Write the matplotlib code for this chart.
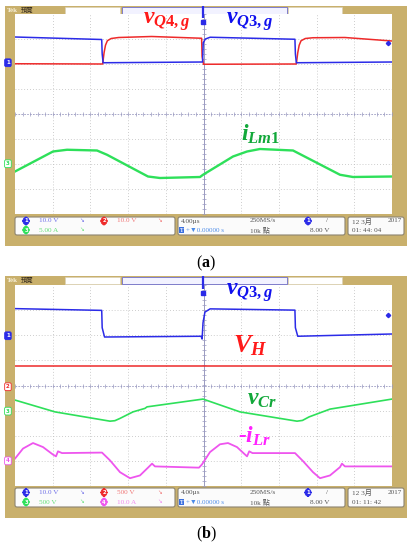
import matplotlib.pyplot as plt
from matplotlib.patches import Rectangle, FancyBboxPatch
import numpy as np

plt.rcParams['mathtext.fontset'] = 'custom'
plt.rcParams['mathtext.it'] = 'Liberation Serif:italic:bold'
plt.rcParams['mathtext.rm'] = 'Liberation Serif:bold'
plt.rcParams['mathtext.bf'] = 'Liberation Serif:bold'

# time in us (4 us/div, 10 div on screen), levels in screen divisions
# ---- (a)
t_q3g_a = [0, 9.2, 9.25, 9.35, 19.9, 19.97, 20.2, 20.7, 29.7, 29.75, 29.85, 40]
v_q3g_a = [3.08, 2.98, 2.4, 2.05, 2.08, 2.85, 3.0, 3.07, 2.99, 2.4, 2.05, 2.08]
t_q4g_a = [0, 9.3, 9.45, 9.6, 9.8, 10.2, 11.0, 14.5, 19.8, 19.85, 20.0,
           29.85, 30.0, 30.15, 30.35, 30.8, 31.6, 35.0, 40]
v_q4g_a = [2.01, 2.0, 2.45, 2.75, 2.93, 3.02, 3.06, 3.1, 3.03, 2.3, 1.99,
           2.0, 2.45, 2.75, 2.93, 3.02, 3.05, 3.06, 2.92]
t_ilm_a = [0, 4.03, 5.52, 8.70, 9.76, 14.11, 15.38, 19.63, 19.95, 23.13,
           24.62, 25.99, 29.50, 34.48, 35.86, 40]
v_ilm_a = [-2.30, -1.50, -1.43, -1.46, -1.63, -2.50, -2.56, -2.52, -2.43, -1.70,
           -1.50, -1.40, -1.46, -2.43, -2.52, -2.50]

# ---- (b)
t_q3g_b = [0, 9.2, 9.25, 9.5, 19.75, 19.85, 19.95, 20.15, 20.7, 29.7, 29.75, 30.0, 40]
v_q3g_b = [3.06, 2.99, 2.3, 1.93, 1.96, 1.85, 2.5, 2.92, 3.05, 3.0, 2.3, 1.96, 2.05]
t_vh_b = [0, 40]
v_vh_b = [0.78, 0.78]
t_vcr_b = [0, 4.24, 10.08, 10.6, 11.14, 12.52, 13.79, 14.01, 19.95, 23.87,
           29.92, 30.5, 31.2, 33.42, 40]
v_vcr_b = [-0.58, -1.05, -1.42, -1.40, -1.31, -1.05, -0.91, -0.85, -0.54, -1.05,
           -1.42, -1.39, -1.25, -0.94, -0.54]
t_ilr_b = [0, 0.85, 1.91, 2.97, 4.03, 4.35, 4.56, 4.99, 9.23, 10.08,
           11.14, 12.20, 13.26, 14.11, 14.54, 14.85, 19.52, 19.84, 20.69, 21.75,
           22.60, 23.55, 24.5, 24.62, 24.85, 25.2, 29.71, 30.56, 31.62, 32.36,
           33.42, 34.48, 34.69, 35.01, 40]
v_ilr_b = [-2.91, -2.51, -2.29, -2.45, -2.75, -2.82, -2.62, -2.69, -2.67, -2.98,
           -3.45, -3.69, -3.58, -3.27, -3.11, -3.22, -3.27, -3.14, -2.65, -2.34,
           -2.29, -2.45, -2.78, -2.82, -2.62, -2.69, -2.69, -3.01, -3.45, -3.69,
           -3.58, -3.25, -3.11, -3.22, -3.22]

# channel ground markers (screen divisions) and reference dot
gnd_a = {'1': 2.05, '3': -1.99}
gnd_b = {'1': 1.98, '2': -0.05, '3': -1.02, '4': -3.0}
ref_dot = (39.57, 2.82)

BLUE = '#2b2be8'
RED = '#ee2a2a'
GREEN = '#2ee05a'
MAG = '#ee55ee'
TAN = '#c9b06c'
CH = {'1': BLUE, '2': RED, '3': GREEN, '4': MAG}
INFO_FONT = ['Liberation Serif', 'DejaVu Sans', 'Noto Sans CJK TC']

fig = plt.figure(figsize=(4.14, 5.5), dpi=100)
W, H = 414, 550

bg = fig.add_axes([0, 0, 1, 1], zorder=0)
bg.set_xlim(0, W); bg.set_ylim(H, 0); bg.axis('off')
ov = fig.add_axes([0, 0, 1, 1], zorder=5)
ov.set_xlim(0, W); ov.set_ylim(H, 0); ov.axis('off')
ov.patch.set_alpha(0)


def frame(top, plot_top, plot_bot, info_top, info_bot, bottom):
    bg.add_patch(Rectangle((5, top), 402, bottom - top, fc=TAN, ec='none'))
    bg.add_patch(Rectangle((65, top + 0.5), 55, 7, fc='white', ec='#d8d0b8', lw=0.4))
    bg.add_patch(Rectangle((122, top + 0.5), 165, 7, fc='#f2f2ff', ec='#7070d0', lw=0.6))
    bg.add_patch(Rectangle((288, top + 0.5), 54, 7, fc='white', ec='#d8d0b8', lw=0.4))
    bg.text(7, top + 4, 'Tek', fontsize=5, color='#f6efd8', fontweight='bold',
            va='center', family=INFO_FONT)
    bg.text(21, top + 4, '預覽', fontsize=4.5, color='#3a3020', va='center',
            family=['Noto Sans CJK TC'])
    for x0, x1 in [(15, 175), (178, 345), (348, 404)]:
        bg.add_patch(FancyBboxPatch((x0, info_top), x1 - x0, info_bot - info_top,
                                    boxstyle='round,pad=0,rounding_size=2',
                                    fc='#fbfbfb', ec='#8c8470', lw=0.8))
    # trigger position marker
    ov.plot([203, 203], [top, plot_top + 4], color=BLUE, lw=1.6, solid_capstyle='butt')
    ov.plot(203, plot_top + 8, marker='s', ms=2.6, color=BLUE)
    return [15 / W, 1 - plot_bot / H, 377 / W, (plot_bot - plot_top) / H]


def screen(rect):
    ax = fig.add_axes(rect, zorder=2)
    ax.set_xlim(0, 40); ax.set_ylim(-4, 4)
    ax.set_facecolor('white')
    for s in ax.spines.values():
        s.set_visible(False)
    ax.set_xticks([]); ax.set_yticks([])
    for x in np.arange(4, 40, 4):
        if x != 20:
            ax.axvline(x, color='#bdbdbd', lw=0.6, ls=(0, (1, 2.5)), zorder=0)
    for y in range(-3, 4):
        if y != 0:
            ax.axhline(y, color='#bdbdbd', lw=0.6, ls=(0, (1, 2.5)), zorder=0)
    ax.axvline(20, color='#9a9ac0', lw=0.7, zorder=0)
    ax.axhline(0, color='#9a9ac0', lw=0.6, ls=(0, (2, 1.5)), zorder=0)
    tk = np.arange(0, 40.01, 0.8)
    ax.plot(tk, np.zeros_like(tk), ls='none', marker='|', ms=2.5, mew=0.5, color='#9a9ac0', zorder=0)
    vk = np.arange(-4, 4.01, 0.2)
    ax.plot(np.full_like(vk, 20), vk, ls='none', marker='_', ms=2.5, mew=0.5, color='#9a9ac0', zorder=0)
    return ax


def ground_markers(ax, gnd):
    for ch, lv in gnd.items():
        filled = ch == '1'
        ax.text(-0.75, lv, ch, fontsize=4, fontweight='bold', ha='center', va='center',
                color='white' if filled else CH[ch], clip_on=False, zorder=6,
                bbox=dict(boxstyle='round,pad=0.25', fc=CH[ch] if filled else 'white',
                          ec=CH[ch], lw=0.6))


def badge(x, y, s, c):
    ov.text(x, y, s, fontsize=3.8, fontweight='bold', color='white', ha='center', va='center',
            bbox=dict(boxstyle='round,pad=0.25,rounding_size=0.8', fc=c, ec=c, lw=0.5))


def info(r1, r2, chans, clock):
    # chans: list of (row, col, channel, scale text)
    for row, col, ch, txt in chans:
        y = r1 if row == 0 else r2
        bx = 26 if col == 0 else 104
        badge(bx, y, ch, CH[ch])
        light = {'1': '#7070e8', '2': '#f07878', '3': '#66e07a', '4': '#f08cf0'}[ch]
        ov.text(bx + 13, y, txt, fontsize=5.2, color=light, va='center', family=INFO_FONT)
        ov.text(bx + 53, y, '↘', fontsize=4, color=light, va='center', family=INFO_FONT)
    ov.text(181, r1, '4.00µs', fontsize=5.2, color='#555555', va='center', family=INFO_FONT)
    ov.text(250, r1, '250MS/s', fontsize=5.2, color='#555555', va='center', family=INFO_FONT)
    badge(308, r1, '1', BLUE)
    ov.text(326, r1, '/', fontsize=5.2, color='#555555', va='center', family=INFO_FONT)
    ov.text(180, r2, 'T', fontsize=4, color='white', va='center', fontweight='bold',
            family=INFO_FONT, bbox=dict(boxstyle='square,pad=0.1', fc='#3a6fe0', ec='none'))
    ov.text(186, r2, '+▼0.00000 s', fontsize=5, color='#4a8ae8', va='center', family=INFO_FONT)
    ov.text(250, r2, '10k 點', fontsize=5.2, color='#555555', va='center', family=INFO_FONT)
    ov.text(330, r2, '8.00 V', fontsize=5.2, color='#555555', va='center', ha='right', family=INFO_FONT)
    ov.text(352, r1, '12 3月', fontsize=5.2, color='#555555', va='center', family=INFO_FONT)
    ov.text(402, r1, '2017', fontsize=5.2, color='#555555', va='center', ha='right', family=INFO_FONT)
    ov.text(352, r2, clock, fontsize=5.2, color='#555555', va='center', family=INFO_FONT)


# ---------------- panel (a)
ax_a = screen(frame(6, 14, 214, 217, 235, 246))
ax_a.plot(t_q4g_a, v_q4g_a, color=RED, lw=1.1)
ax_a.plot(t_q3g_a, v_q3g_a, color=BLUE, lw=1.1)
ax_a.plot(t_ilm_a, v_ilm_a, color=GREEN, lw=1.7)
ax_a.plot(*ref_dot, marker='D', ms=2.2, color=BLUE)
ground_markers(ax_a, gnd_a)
info(221, 230, [(0, 0, '1', '10.0 V'), (0, 1, '2', '10.0 V'), (1, 0, '3', '5.00 A')], '01: 44: 04')

ov.text(143, 24, r'$v_{Q4,g}$', color='#ff1a1a', fontsize=17, va='baseline')
ov.text(226, 24, r'$v_{Q3,g}$', color='#1010ee', fontsize=17, va='baseline')
ov.text(241, 141, r'$i_{Lm1}$', color='#12a83a', fontsize=17, va='baseline')
ov.text(206, 263, r'($\mathbf{a}$)', fontsize=11.5, ha='center', va='center',
        family='Liberation Serif')

# ---------------- panel (b)
ax_b = screen(frame(276, 285, 486, 488, 507, 518))
ax_b.plot(t_vh_b, v_vh_b, color=RED, lw=1.1)
ax_b.plot(t_q3g_b, v_q3g_b, color=BLUE, lw=1.1)
ax_b.plot(t_vcr_b, v_vcr_b, color=GREEN, lw=1.2)
ax_b.plot(t_ilr_b, v_ilr_b, color=MAG, lw=1.3)
ax_b.plot(*ref_dot, marker='D', ms=2.2, color=BLUE)
ground_markers(ax_b, gnd_b)
info(492.5, 502, [(0, 0, '1', '10.0 V'), (0, 1, '2', '500 V'), (1, 0, '3', '500 V'),
                  (1, 1, '4', '10.0 A')], '01: 11: 42')

ov.text(226, 295, r'$v_{Q3,g}$', color='#1010ee', fontsize=17, va='baseline')
ov.text(233, 352, r'$V_H$', color='#ff1a1a', fontsize=19, va='baseline')
ov.text(247, 405, r'$v_{Cr}$', color='#12a83a', fontsize=17, va='baseline')
ov.text(238, 443, r'-$i_{Lr}$', color='#ff22ff', fontsize=17, va='baseline',
        family='Liberation Serif', fontweight='bold', style='italic')
ov.text(206, 534, r'($\mathbf{b}$)', fontsize=11.5, ha='center', va='center',
        family='Liberation Serif')

fig.savefig('out.png', dpi=100, facecolor='white')
